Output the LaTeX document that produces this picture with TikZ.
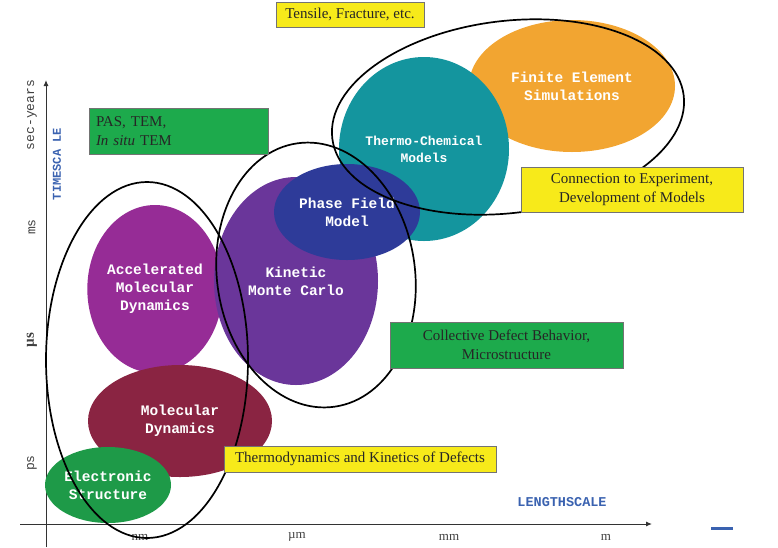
\documentclass[tikz,border=0pt]{standalone}
\usepackage{fontspec}
\setmainfont{Liberation Serif}
\setmonofont{Liberation Mono}
\usetikzlibrary{shapes.geometric,arrows.meta}
\definecolor{cES}{HTML}{1E9A48}
\definecolor{cMD}{HTML}{8A2442}
\definecolor{cAMD}{HTML}{962C96}
\definecolor{cKMC}{HTML}{6A369A}
\definecolor{cPF}{HTML}{2E3B99}
\definecolor{cTC}{HTML}{14959E}
\definecolor{cFE}{HTML}{F2A531}
\definecolor{cGB}{HTML}{1DAA4C}
\definecolor{cYB}{HTML}{F7EA1A}
\definecolor{cBlue}{HTML}{3A62B0}
\begin{document}
\begin{tikzpicture}[x=1pt,y=-1pt,
  blob/.style={ellipse, inner sep=0pt, text=white, align=center,
    font=\ttfamily\bfseries\fontsize{14.5}{18}\selectfont},
  ring/.style={ellipse, draw=black, line width=1.7pt, inner sep=0pt},
  ybox/.style={fill=cYB, draw=black!55, line width=0.6pt, text=black!85,
    align=center, inner sep=0pt, font=\fontsize{15}{19}\selectfont},
  gbox/.style={fill=cGB, draw=black!55, line width=0.6pt, text=black!85,
    align=center, inner sep=0pt, font=\fontsize{15}{19}\selectfont},
  axlab/.style={font=\ttfamily\fontsize{13}{15}\selectfont, text=black!75, rotate=90},
  xlab/.style={font=\fontsize{13}{15}\selectfont, text=black!75}]
\useasboundingbox (0,0) rectangle (778,547);
% axes
\coordinate (yb) at (46,547);
\coordinate (yt) at (46,80);
\coordinate (xl) at (20,524);
\coordinate (xr) at (652,524);
\draw[line width=1pt, black!80, -{Latex[length=6pt,width=5pt]}] (yb) -- (yt);
\draw[line width=1pt, black!80, -{Latex[length=6pt,width=5pt]}] (xl) -- (xr);
% axis labels
\node[axlab] (lsec) at (32,115) {sec-years};
\node[axlab] (lms) at (32,227) {ms};
\node[axlab, font=\bfseries\fontsize{15}{17}\selectfont] (lus) at (32,340) {µs};
\node[axlab] (lps) at (32,463) {ps};
\node[axlab, text=cBlue, font=\ttfamily\bfseries\fontsize{12}{14}\selectfont] (lts) at (57,164) {TIMESCA LE};
\node[font=\ttfamily\bfseries\fontsize{13.5}{15}\selectfont, text=cBlue] (lls) at (562,502) {LENGTHSCALE};
\node[xlab] (lnm) at (140,537) {nm};
\node[xlab] (lum) at (297,537) {µm};
\node[xlab] (lmm) at (449,537) {mm};
\node[xlab] (lm) at (606,537) {m};
\coordinate (da) at (711,528);
\coordinate (db) at (733,528);
\draw[line width=3pt, cBlue] (da) -- (db);
% coloured ellipses
\node[blob, fill=cFE, minimum width=206pt, minimum height=132pt] (fe) at (572,86) {Finite Element\\Simulations};
\node[blob, fill=cTC, minimum width=170pt, minimum height=184pt, font=\ttfamily\bfseries\fontsize{13}{17}\selectfont] (tc) at (424,149) {Thermo-Chemical\\Models};
\node[blob, fill=cAMD, minimum width=132pt, minimum height=168pt] (amd) at (155,289) {Accelerated\\Molecular\\Dynamics};
\node[blob, fill=cKMC, minimum width=164pt, minimum height=208pt] (kmc) at (296,281) {Kinetic\\Monte Carlo};
\node[blob, fill=cPF, minimum width=146pt, minimum height=96pt] (pf) at (347,212) {Phase Field\\Model};
\node[blob, fill=cMD, minimum width=184pt, minimum height=112pt] (md) at (180,421) {Molecular\\Dynamics};
\node[blob, fill=cES, minimum width=126pt, minimum height=76pt] (es) at (108,485) {Electronic\\Structure};
% outline ellipses
\node[ring, minimum width=202pt, minimum height=356pt] (r1) at (147,360) {};
\node[ring, minimum width=198pt, minimum height=266pt, rotate=8] (r2) at (316,275) {};
\node[ring, minimum width=354pt, minimum height=192pt, rotate=7] (r3) at (508,117) {};
% boxes
\node[ybox, minimum width=148pt, minimum height=25pt] (b1) at (350,14.5) {Tensile, Fracture, etc.};
\node[gbox, minimum width=179pt, minimum height=46pt, align=left, text width=165pt] (b2) at (178.5,131) {PAS, TEM,\\\textit{In situ} TEM};
\node[ybox, minimum width=222pt, minimum height=45pt] (b3) at (632,189.5) {Connection to Experiment,\\Development of Models};
\node[gbox, minimum width=233pt, minimum height=46pt] (b4) at (506.5,345) {Collective Defect Behavior,\\Microstructure};
\node[ybox, minimum width=272pt, minimum height=26pt] (b5) at (360,459) {Thermodynamics and Kinetics of Defects};
\end{tikzpicture}
\end{document}
